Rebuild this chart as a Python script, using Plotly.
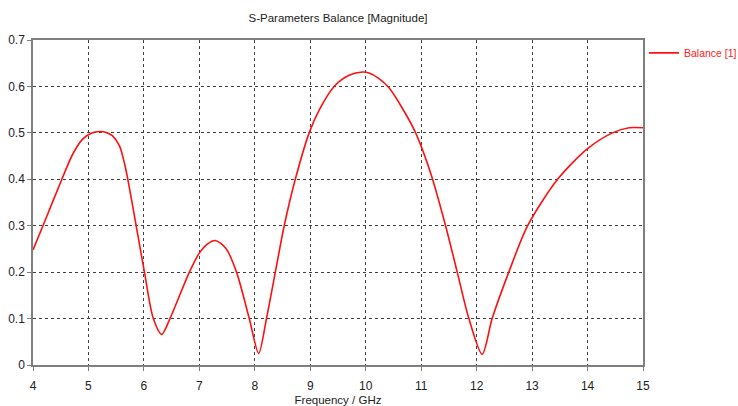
import plotly.graph_objects as go

# Balance magnitude vs. frequency
freq_ghz = [4.00, 4.18, 4.52, 4.72, 4.90, 5.05, 5.20, 5.32, 5.43, 5.56, 5.65, 5.71, 5.86, 6.01,
            6.17, 6.32, 6.47, 6.82, 7.00, 7.15, 7.29, 7.48, 7.67, 7.90, 8.07,
            8.21, 8.37, 8.53, 8.73, 8.98, 9.16, 9.43, 9.70, 9.94, 10.06, 10.24, 10.42,
            10.66, 10.90, 11.18, 11.44, 11.65, 11.86, 12.10, 12.28, 12.58, 12.92,
            13.46, 14.00, 14.45, 14.75, 15.00]
balance = [0.248, 0.300, 0.400, 0.455, 0.487, 0.499, 0.503, 0.501, 0.494, 0.472, 0.434, 0.400,
           0.300, 0.200, 0.100, 0.066, 0.100, 0.200, 0.241, 0.261, 0.268, 0.251, 0.200,
           0.100, 0.025, 0.100, 0.200, 0.300, 0.400, 0.500, 0.549, 0.600, 0.624, 0.631,
           0.629, 0.617, 0.597, 0.553, 0.500, 0.410, 0.300, 0.200, 0.100, 0.023, 0.100, 0.200,
           0.300, 0.400, 0.466, 0.500, 0.511, 0.511]

x_ticks = list(range(4, 16))
y_ticks = [0, 0.1, 0.2, 0.3, 0.4, 0.5, 0.6, 0.7]

font_family = "Liberation Sans, Arial, sans-serif"
axis_color = "#7f7f7f"
grid_color = "#404040"
text_color = "#222222"

fig = go.Figure()
fig.add_trace(go.Scatter(
    x=freq_ghz, y=balance, mode="lines", name="Balance [1]",
    line=dict(color="#ff1010", width=1.6, shape="spline", smoothing=0.8),
))

axis_common = dict(
    showline=True, linecolor=axis_color, linewidth=1.5, mirror=True,
    showgrid=True, gridcolor=grid_color, griddash="dot", gridwidth=1,
    ticks="outside", ticklen=4, tickcolor=axis_color,
    tickfont=dict(family=font_family, size=12, color=text_color),
    zeroline=False,
)

fig.update_xaxes(range=[4, 15], tickvals=x_ticks, ticklabelstandoff=5, **axis_common,
                 title=dict(text="Frequency / GHz", standoff=14,
                            font=dict(family=font_family, size=11.5, color=text_color)))
fig.update_yaxes(range=[0, 0.7], tickvals=y_ticks, **axis_common)

fig.update_layout(
    width=738, height=406,
    margin=dict(l=33, r=95, t=40, b=41, autoexpand=False),
    paper_bgcolor="white", plot_bgcolor="white",
    title=dict(text="S-Parameters Balance [Magnitude]", x=0.458, xanchor="center",
               y=0.955, yanchor="middle",
               font=dict(family=font_family, size=11.5, color=text_color)),
    showlegend=True,
    legend=dict(x=1.0016, y=1.005, xanchor="left", yanchor="top",
                font=dict(family=font_family, size=10.5, color="#ff2020"),
                itemwidth=30, bgcolor="rgba(0,0,0,0)", borderwidth=0),
)

fig.write_html("out.html")
